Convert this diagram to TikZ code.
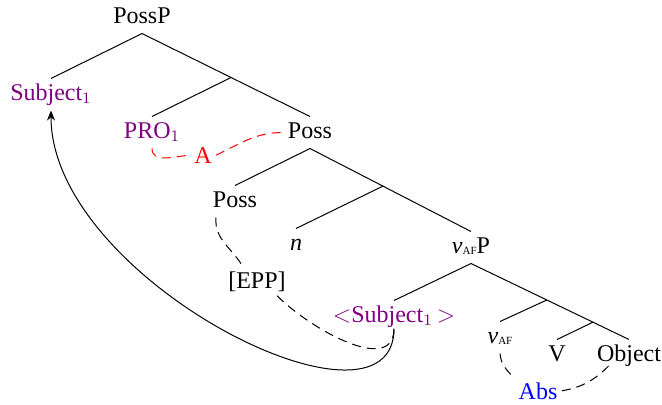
\documentclass[tikz,border=0pt]{standalone}
\usepackage{fontspec}
\setmainfont{Liberation Serif}
\usetikzlibrary{arrows.meta,calc}
\definecolor{tpurple}{RGB}{128,0,128}
\newcommand{\vaf}{\textit{v}{\fontsize{5.5}{6}\selectfont\raisebox{-0.5pt}{AF}}}
\begin{document}
\begin{tikzpicture}[x=0.5pt,y=-0.5pt,line width=0.5pt,
  tn/.style={text height=8pt,text depth=2.5pt,inner sep=2.5pt,anchor=base,font=\fontsize{12}{14}\selectfont},
  lbl/.style={inner sep=2pt,anchor=base,font=\fontsize{12}{14}\selectfont},
  dsh/.style={dash pattern=on 4.5pt off 3pt}]
\useasboundingbox (0,0) rectangle (662,404);
\node[tn] (PossP) at (142,23) {PossP};
\node[tn,text=tpurple] (Subj) at (51,100) {Subject$_1$};
\node[tn,text=tpurple] (PRO) at (152,138) {PRO$_1$};
\node[tn] (PossR) at (310,138) {Poss};
\node[tn] (PossL) at (235,207) {Poss};
\node[tn] (n) at (296,250) {\textit{n}};
\node[tn] (vP) at (471,253) {\vaf P};
\node[tn,text=tpurple] (Subj2) at (394,322) {$<$Subject$_1$\,$>$};
\node[tn] (vaf) at (500,343) {\vaf};
\node[tn] (V) at (557,361) {V};
\node[tn] (Obj) at (629,361) {Object};
\node[lbl,text=red] (A) at (203,163) {A};
\node[lbl] (EPP) at (257,288) {[EPP]};
\node[lbl,text=blue] (Abs) at (538,399) {Abs};
\coordinate (b1) at ($(PossP.south)!0.53!(PossR.north)$);
\coordinate (b2) at ($(PossR.south)!0.453!(vP.north)$);
\coordinate (b3) at ($(vP.south)!0.48!(Obj.north)$);
\coordinate (b4) at ($(vP.south)!0.772!(Obj.north)$);
\draw (PossP.south) -- (Subj.north);
\draw (PossP.south) -- (PossR.north);
\draw (b1) -- (PRO.north);
\draw (PossR.south) -- (PossL.north);
\draw (PossR.south) -- (vP.north);
\draw (b2) -- (n.north);
\draw (vP.south) -- (Subj2.north);
\draw (vP.south) -- (Obj.north);
\draw (b3) -- (vaf.north);
\draw (b4) -- (V.north);
% red agreement
\draw[red,dsh] (PRO.south) to[out=-90,in=185] (A.west);
\draw[red,dsh] (A.east) to[out=25,in=180] (PossR.west);
% EPP
\draw[dsh] ([xshift=-9.5pt]PossL.south) to[out=-95,in=120] ([xshift=-7pt]EPP.north);
\draw[dsh] ([xshift=10pt]EPP.south) to[out=-45,in=-90] ([yshift=2pt]Subj2.south);
% movement arrow
\draw[-{Stealth[length=5pt,width=4pt]}] ([yshift=2pt]Subj2.south) .. controls +(0,122) and +(0,170) .. (Subj.south);
% Abs
\draw[dsh] (vaf.south) to[out=-85,in=135] (Abs.north west);
\draw[dsh] (Abs.east) to[out=10,in=-135] ([xshift=-10pt,yshift=3pt]Obj.south);
\end{tikzpicture}
\end{document}
